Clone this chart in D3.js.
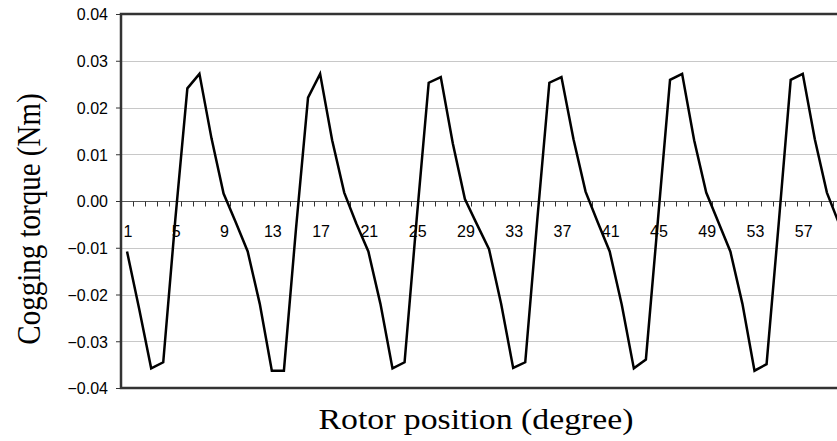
<!DOCTYPE html>
<meta charset="utf-8">
<style>

body {
  margin: 0;
  background: #fff;
}

.tick text, .xlabel {
  font: 16px "Liberation Sans", Arial, sans-serif;
  fill: #000;
}

.title {
  font: 29px "Liberation Serif", "Times New Roman", serif;
  fill: #000;
}

.grid line {
  stroke: #c8c8c8;
  stroke-width: 1;
}

.series {
  fill: none;
  stroke: #000;
  stroke-width: 2.5;
  stroke-linejoin: miter;
}

</style>
<body>
<script src="https://cdn.jsdelivr.net/npm/d3@7"></script>
<script>

// rotor position categories 1..60
var positions = d3.range(1, 61);

// cogging torque (Nm)
var torque = [
  -0.0108, -0.0230, -0.0358, -0.0345, -0.0040, 0.0241, 0.0272, 0.0134, 0.0016, -0.0045,
  -0.0108, -0.0220, -0.0363, -0.0363, -0.0060, 0.0221, 0.0272, 0.0130, 0.0018, -0.0048,
  -0.0108, -0.0220, -0.0358, -0.0345, -0.0040, 0.0253, 0.0265, 0.0123, 0.0004, -0.0050,
  -0.0103, -0.0220, -0.0357, -0.0345, -0.0040, 0.0253, 0.0265, 0.0132, 0.0020, -0.0045,
  -0.0108, -0.0222, -0.0358, -0.0339, -0.0040, 0.0259, 0.0272, 0.0130, 0.0018, -0.0045,
  -0.0108, -0.0220, -0.0363, -0.0349, -0.0050, 0.0259, 0.0272, 0.0132, 0.0018, -0.0048
];

var yTicks = [-0.04, -0.03, -0.02, -0.01, 0, 0.01, 0.02, 0.03, 0.04];
var xLabels = [1, 5, 9, 13, 17, 21, 25, 29, 33, 37, 41, 45, 49, 53, 57];

var width = 837,
    height = 441;

var plotLeft = 121, plotRight = 845, plotTop = 14, plotBottom = 388;

var svg = d3.select("body").append("svg")
    .attr("width", width)
    .attr("height", height);

var x = d3.scaleBand()
    .domain(positions)
    .range([plotLeft, plotRight]);

var y = d3.scaleLinear()
    .domain([-0.04, 0.04])
    .range([plotBottom, plotTop]);

// horizontal grid lines
svg.append("g")
    .attr("class", "grid")
  .selectAll("line")
    .data(yTicks.filter(function(d) { return d != 0 && Math.abs(d) < 0.04; }))
  .enter().append("line")
    .attr("x1", plotLeft)
    .attr("x2", plotRight)
    .attr("y1", function(d) { return Math.round(y(d)) + 0.5; })
    .attr("y2", function(d) { return Math.round(y(d)) + 0.5; });

// y axis
var yAxis = svg.append("g")
    .attr("transform", "translate(" + plotLeft + ",0)")
    .call(d3.axisLeft(y)
      .tickValues(yTicks)
      .tickFormat(d3.format(".2f"))
      .tickSize(5)
      .tickPadding(8));

yAxis.select(".domain").remove();
yAxis.selectAll(".tick line").attr("stroke", "#333");
yAxis.selectAll(".tick text").attr("dy", "0.36em");

// zero line with category ticks between points
var zero = Math.round(y(0)) + 0.5;

svg.append("line")
    .attr("x1", plotLeft)
    .attr("x2", plotRight)
    .attr("y1", zero)
    .attr("y2", zero)
    .attr("stroke", "#555")
    .attr("stroke-width", 1.2);

svg.append("g")
  .selectAll("line")
    .data(positions)
  .enter().append("line")
    .attr("x1", function(d) { return Math.round(x(d) + x.bandwidth()) + 0.5; })
    .attr("x2", function(d) { return Math.round(x(d) + x.bandwidth()) + 0.5; })
    .attr("y1", zero)
    .attr("y2", zero + 5)
    .attr("stroke", "#333");

svg.append("g")
  .selectAll("text")
    .data(xLabels)
  .enter().append("text")
    .attr("class", "xlabel")
    .attr("x", function(d) { return x(d) + x.bandwidth() / 2 + 1; })
    .attr("y", 237)
    .attr("text-anchor", "middle")
    .text(function(d) { return d; });

// the series
var line = d3.line()
    .x(function(d, i) { return x(positions[i]) + x.bandwidth() / 2; })
    .y(function(d) { return y(d); });

svg.append("path")
    .datum(torque)
    .attr("class", "series")
    .attr("d", line);

// plot frame
svg.append("rect")
    .attr("x", plotLeft)
    .attr("y", plotTop)
    .attr("width", plotRight - plotLeft)
    .attr("height", plotBottom - plotTop)
    .attr("fill", "none")
    .attr("stroke", "#333")
    .attr("stroke-width", 2.5);

// titles (the original picture is a bit stretched sideways)
svg.append("text")
    .attr("class", "title")
    .attr("x", 476)
    .attr("y", 429)
    .attr("text-anchor", "middle")
    .attr("textLength", 315)
    .attr("lengthAdjust", "spacingAndGlyphs")
    .text("Rotor position (degree)");

svg.append("text")
    .attr("class", "title")
    .attr("transform", "translate(40,219) scale(1.15,1) rotate(-90)")
    .attr("text-anchor", "middle")
    .text("Cogging torque (Nm)");

</script>
</body>
